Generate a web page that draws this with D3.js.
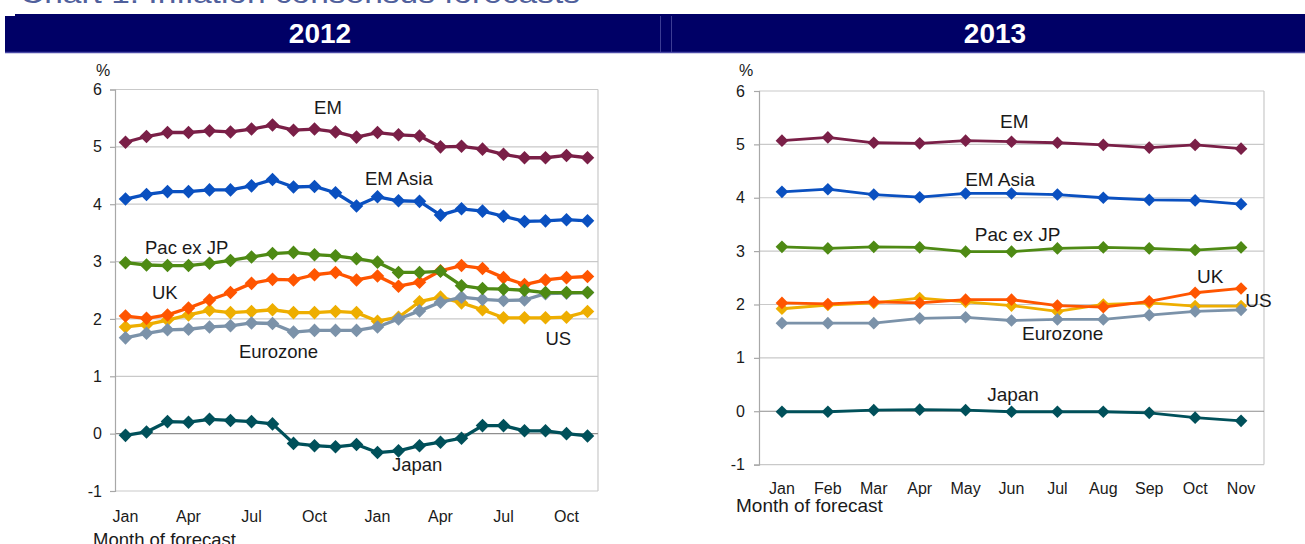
<!DOCTYPE html>
<html>
<head>
<meta charset="utf-8">
<script src="https://cdn.jsdelivr.net/npm/d3@7"></script>
<style>
  body { margin: 0; background: #fff; }
  svg { display: block; font-family: "Liberation Sans", Arial, sans-serif; }
</style>
</head>
<body>
<svg id="content"></svg>
<script>
// month of forecast, Jan 2012 .. Nov 2013 for the 2012 panel
const months2012 = ["Jan-12","Feb-12","Mar-12","Apr-12","May-12","Jun-12","Jul-12","Aug-12","Sep-12","Oct-12","Nov-12","Dec-12",
                    "Jan-13","Feb-13","Mar-13","Apr-13","May-13","Jun-13","Jul-13","Aug-13","Sep-13","Oct-13","Nov-13"];
const months2013 = ["Jan","Feb","Mar","Apr","May","Jun","Jul","Aug","Sep","Oct","Nov"];
const yTicks = [-1, 0, 1, 2, 3, 4, 5, 6];

// 2012 inflation forecasts (%)
const em2012     = [5.08,5.18,5.25,5.25,5.28,5.26,5.31,5.38,5.29,5.31,5.26,5.17,5.25,5.21,5.19,5.00,5.01,4.96,4.87,4.81,4.81,4.85,4.81];
const emAsia2012 = [4.09,4.17,4.22,4.22,4.25,4.25,4.32,4.43,4.30,4.31,4.20,3.97,4.13,4.06,4.05,3.81,3.92,3.88,3.79,3.70,3.71,3.73,3.71];
const pac2012    = [2.98,2.94,2.93,2.93,2.97,3.02,3.08,3.14,3.16,3.12,3.10,3.05,2.99,2.81,2.81,2.83,2.58,2.53,2.52,2.50,2.46,2.46,2.46];
const uk2012     = [2.05,2.01,2.07,2.19,2.33,2.46,2.62,2.69,2.68,2.77,2.81,2.68,2.75,2.57,2.64,2.84,2.93,2.88,2.72,2.60,2.68,2.72,2.74];
const us2012     = [1.86,1.90,1.98,2.07,2.15,2.11,2.13,2.16,2.11,2.11,2.13,2.11,1.96,2.03,2.30,2.38,2.28,2.16,2.02,2.02,2.02,2.03,2.13];
const euro2012   = [1.67,1.75,1.81,1.82,1.86,1.88,1.93,1.92,1.77,1.80,1.80,1.80,1.86,2.00,2.14,2.29,2.38,2.34,2.32,2.33,2.44,2.45,2.46];
const japan2012  = [-0.03,0.03,0.21,0.20,0.25,0.23,0.21,0.17,-0.17,-0.21,-0.23,-0.19,-0.33,-0.30,-0.21,-0.15,-0.08,0.14,0.14,0.05,0.05,0.00,-0.04];

// 2013 inflation forecasts (%)
const em2013     = [5.07,5.13,5.03,5.02,5.07,5.05,5.03,4.99,4.94,4.99,4.92];
const emAsia2013 = [4.11,4.16,4.06,4.01,4.08,4.08,4.06,4.00,3.96,3.95,3.88];
const pac2013    = [3.08,3.05,3.08,3.07,2.99,2.99,3.05,3.07,3.05,3.02,3.07];
const uk2013     = [2.03,2.01,2.05,2.03,2.09,2.09,1.98,1.95,2.06,2.22,2.30];
const us2013     = [1.92,1.99,2.03,2.12,2.05,1.98,1.87,2.00,2.03,1.97,1.97];
const euro2013   = [1.65,1.65,1.65,1.74,1.76,1.70,1.72,1.72,1.80,1.87,1.90];
const japan2013  = [-0.01,-0.01,0.02,0.03,0.02,-0.01,-0.01,-0.01,-0.03,-0.12,-0.18];

const colors = {
    "EM": "#7a1f47", "EM Asia": "#0a50c0", "Pac ex JP": "#4e8a14", "UK": "#ff5500",
    "US": "#eeae00", "Eurozone": "#7b92a9", "Japan": "#00505a"
};

const svg = d3.select("#content").attr("width", 1305).attr("height", 544);

// cut-off title at the very top
svg.append("text")
    .attr("x", 20).attr("y", 3)
    .attr("font-size", 28).attr("fill", "#50609c")
    .attr("textLength", 560).attr("lengthAdjust", "spacingAndGlyphs")
    .text("Chart 1: Inflation consensus forecasts");

// header bars
svg.append("rect").attr("x", 15).attr("y", 14).attr("width", 1290).attr("height", 3).attr("fill", "#000066");
svg.append("rect").attr("x", 5).attr("y", 16).attr("width", 1300).attr("height", 36).attr("fill", "#000066");
svg.append("line").attr("x1", 5).attr("x2", 1305).attr("y1", 52.5).attr("y2", 52.5)
    .attr("stroke", "#4a4aa6").attr("stroke-width", 1.5);
[660.5, 671.5].forEach(x => svg.append("line")
    .attr("x1", x).attr("x2", x).attr("y1", 16).attr("y2", 52)
    .attr("stroke", "#3c3c94").attr("stroke-width", 1));
[["2012", 320], ["2013", 995]].forEach(([t, x]) => svg.append("text")
    .attr("x", x).attr("y", 43).attr("text-anchor", "middle")
    .attr("fill", "#fff").attr("font-weight", "bold").attr("font-size", 28)
    .text(t));

function drawChart(cfg) {
    const g = svg.append("g");

    const x = d3.scaleBand().domain(cfg.months).range([cfg.left, cfg.right]);
    const y = d3.scaleLinear().domain([-1, 6]).range([cfg.bottom, cfg.top]);
    const cx = i => x(cfg.months[0]) + x.bandwidth() / 2 + i * x.step();   // fractional position for labels

    // gridlines
    g.selectAll(".grid").data(yTicks.filter(d => d !== 0)).enter().append("line")
        .attr("x1", cfg.left).attr("x2", cfg.right)
        .attr("y1", d => y(d)).attr("y2", d => y(d))
        .attr("stroke", "#c9c9c9").attr("stroke-width", 1.2);
    g.append("line").attr("x1", cfg.right).attr("x2", cfg.right)
        .attr("y1", cfg.top).attr("y2", cfg.bottom)
        .attr("stroke", "#c9c9c9").attr("stroke-width", 1.2);
    g.append("line").attr("x1", cfg.left).attr("x2", cfg.right)
        .attr("y1", y(0)).attr("y2", y(0))
        .attr("stroke", "#8e8e8e").attr("stroke-width", 1.2);

    // y axis
    const ya = g.append("g").attr("transform", `translate(${cfg.left},0)`)
        .call(d3.axisLeft(y).tickValues(yTicks).tickSize(5).tickPadding(cfg.yPad).tickFormat(d => String(d)));
    ya.select(".domain").attr("stroke", "#a8a8a8").attr("stroke-width", 1.2);
    ya.selectAll(".tick line").attr("stroke", "#a8a8a8").attr("stroke-width", 1.2);
    ya.selectAll("text").attr("font-size", 16).attr("fill", "#1a1a1a").attr("font-family", null);

    // x axis
    const xa = g.append("g").attr("transform", `translate(0,${cfg.bottom})`)
        .call(d3.axisBottom(x).tickValues(cfg.months.filter((d, i) => i % cfg.every === 0))
            .tickSize(0).tickPadding(cfg.xPad).tickFormat(d => d.slice(0, 3)));
    xa.select(".domain").remove();
    xa.selectAll("text").attr("font-size", 16).attr("fill", "#1a1a1a").attr("font-family", null);

    g.append("text").attr("x", cfg.pctX).attr("y", 76).attr("text-anchor", "middle")
        .attr("font-size", 16).attr("fill", "#1a1a1a").text("%");
    g.append("text").attr("x", cfg.titleX).attr("y", cfg.titleY)
        .attr("font-size", cfg.labelSize).attr("fill", "#1a1a1a").text("Month of forecast");

    const line = d3.line().x((d, i) => x(cfg.months[i]) + x.bandwidth() / 2).y(d => y(d));
    const diamond = d3.symbol().type(d3.symbolSquare).size(cfg.marker);

    cfg.series.forEach(s => {
        const sg = g.append("g");
        sg.append("path").datum(s.values)
            .attr("d", line).attr("fill", "none")
            .attr("stroke", colors[s.name]).attr("stroke-width", cfg.lineWidth)
            .attr("stroke-linejoin", "round");
        sg.selectAll("path.m").data(s.values).enter().append("path")
            .attr("class", "m")
            .attr("d", diamond)
            .attr("transform", (d, i) => `translate(${x(cfg.months[i]) + x.bandwidth() / 2},${y(d)}) rotate(45)`)
            .attr("fill", colors[s.name]);
    });

    cfg.labels.forEach(l => g.append("text")
        .attr("x", cx(l.at)).attr("y", y(l.v))
        .attr("font-size", cfg.labelSize).attr("fill", "#1a1a1a")
        .text(l.name));
}

drawChart({
    months: months2012, every: 3,
    left: 115, right: 598, top: 89.5, bottom: 491,
    yPad: 8, xPad: 20, pctX: 103, titleX: 93, titleY: 546,
    lineWidth: 3.3, marker: 92, labelSize: 18.5,
    series: [
        { name: "US", values: us2012 },
        { name: "Eurozone", values: euro2012 },
        { name: "UK", values: uk2012 },
        { name: "Pac ex JP", values: pac2012 },
        { name: "EM Asia", values: emAsia2012 },
        { name: "EM", values: em2012 },
        { name: "Japan", values: japan2012 }
    ],
    labels: [
        { name: "EM", at: 8.98, v: 5.57 },
        { name: "EM Asia", at: 11.4, v: 4.34 },
        { name: "Pac ex JP", at: 0.93, v: 3.13 },
        { name: "UK", at: 1.26, v: 2.35 },
        { name: "Eurozone", at: 5.4, v: 1.32 },
        { name: "US", at: 20.0, v: 1.55 },
        { name: "Japan", at: 12.69, v: -0.65 }
    ]
});

drawChart({
    months: months2013, every: 1,
    left: 759, right: 1264, top: 91, bottom: 464.6,
    yPad: 9, xPad: 18, pctX: 746, titleX: 736, titleY: 512,
    lineWidth: 2.8, marker: 80, labelSize: 19,
    series: [
        { name: "US", values: us2013 },
        { name: "Eurozone", values: euro2013 },
        { name: "UK", values: uk2013 },
        { name: "Pac ex JP", values: pac2013 },
        { name: "EM Asia", values: emAsia2013 },
        { name: "EM", values: em2013 },
        { name: "Japan", values: japan2013 }
    ],
    labels: [
        { name: "EM", at: 4.75, v: 5.31 },
        { name: "EM Asia", at: 3.99, v: 4.22 },
        { name: "Pac ex JP", at: 4.2, v: 3.19 },
        { name: "UK", at: 9.04, v: 2.40 },
        { name: "US", at: 10.09, v: 1.96 },
        { name: "Eurozone", at: 5.23, v: 1.34 },
        { name: "Japan", at: 4.47, v: 0.19 }
    ]
});
</script>
</body>
</html>
